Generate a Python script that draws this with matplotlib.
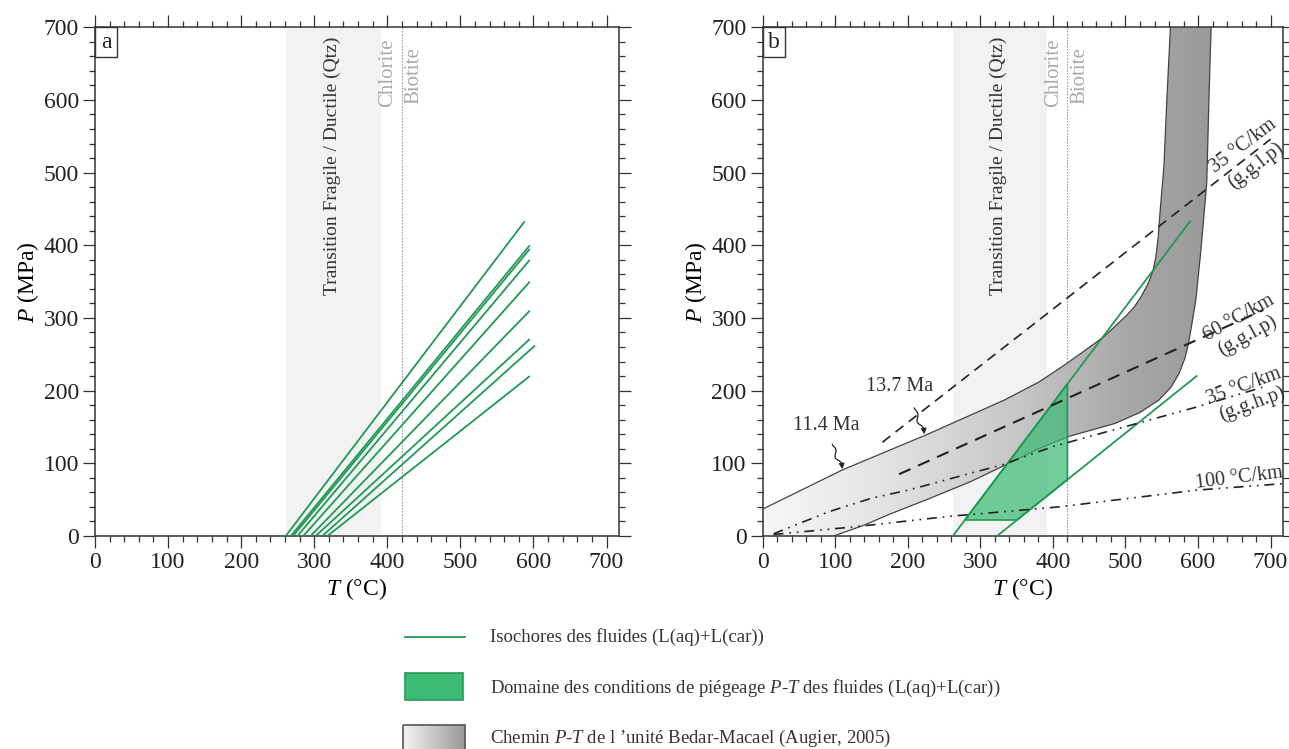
import matplotlib
matplotlib.use("Agg")
import matplotlib.pyplot as plt
from matplotlib.patches import Polygon, Rectangle
from matplotlib.ticker import MultipleLocator
import numpy as np

plt.rcParams['font.family'] = ['Liberation Serif', 'DejaVu Serif']
plt.rcParams['mathtext.fontset'] = 'custom'
plt.rcParams['mathtext.rm'] = 'Liberation Serif'
plt.rcParams['mathtext.it'] = 'Liberation Serif:italic'

# Isochores (start T at P=0, end T, end P)
iso_t0 = [261, 268, 271, 277, 285, 295, 302, 311, 318]
iso_t1 = [588, 595, 595, 595, 595, 595, 595, 602, 595]
iso_p1 = [433, 400, 395, 380, 350, 310, 271, 262, 220]

# isochores kept in panel b (upper / lower)
b_iso_t0 = [262, 323]
b_iso_t1 = [589, 598]
b_iso_p1 = [433, 220]
trap_pmin = 22    # bottom of trapping domain
trap_tmax = 420   # right edge (biotite-in)

# Fragile / ductile transition band, chlorite/biotite limit
brittle_tmin, brittle_tmax = 262, 392
biotite_t = 420

# P-T path of Bedar-Macael unit (Augier, 2005)
path_up_t = [0, 110, 225, 333, 381, 420, 470, 500, 512, 522, 531, 538, 542, 545, 548, 553, 557, 562]
path_up_p = [37, 91, 139, 187, 212, 238, 274, 302, 315, 330, 347, 365, 385, 410, 450, 509, 601, 700]
path_lo_t = [98, 140, 175, 226, 287, 335, 380, 422, 486, 520, 546, 563, 574, 582, 587, 592, 597, 604, 612, 615, 618]
path_lo_p = [0, 15, 30, 50, 75, 98, 120, 137, 155, 170, 187, 205, 224, 245, 266, 295, 325, 394, 486, 601, 700]

# geotherms
g35lp_t = [165, 700]
g35lp_p = [129, 546]
g60_t = [188, 690]
g60_p = [85, 311]
g35hp_t = [15, 90, 150, 200, 330, 400, 600, 690]
g35hp_p = [3, 33, 52, 63, 98, 123, 178, 205]
g100_t = [15, 130, 257, 408, 597, 717]
g100_p = [2, 13, 27, 40, 63, 72]

geo_labels = ["35 °C/km", "(g.g.l.p)", "60 °C/km", "(g.g.l.p)",
              "35 °C/km", "(g.g.h.p)", "100 °C/km"]
geo_lab_t = [662, 680, 657, 668, 664, 674, 657]
geo_lab_p = [537, 510, 300, 276, 206, 181, 80]
geo_lab_rot = [37, 37, 29, 29, 20, 20, 7]

# age labels: text position, arrow start, arrow end
age_labels = ["13.7 Ma", "11.4 Ma"]
age_txt = [(188, 192), (88, 139)]
age_from = [(209, 176), (96, 126)]
age_to = [(223, 140), (110, 92)]

GREEN = '#1f9a55'
GREEN_FILL = '#3dbb75'
XMAX, YMAX = 717, 700


def style_axes(ax):
    ax.set_xlim(0, XMAX)
    ax.set_ylim(0, YMAX)
    ax.xaxis.set_major_locator(MultipleLocator(100))
    ax.xaxis.set_minor_locator(MultipleLocator(20))
    ax.yaxis.set_major_locator(MultipleLocator(100))
    ax.yaxis.set_minor_locator(MultipleLocator(20))
    ax.tick_params(which='both', direction='out', top=True, right=True,
                   width=0.9, colors='#333333', labelsize=17)
    ax.tick_params(which='major', length=8.5, pad=3)
    ax.tick_params(which='minor', length=4.5)
    ax.tick_params(labelcolor='#222222')
    for s in ax.spines.values():
        s.set_linewidth(1.1)
        s.set_color('#333333')
    ax.set_xlabel(r'$T$ (°C)', fontsize=17, labelpad=2)
    ax.set_ylabel(r'$P$ (MPa)', fontsize=17, labelpad=2)


def common_background(ax, letter):
    ax.axvspan(brittle_tmin, brittle_tmax, color='#f2f2f2', lw=0, zorder=0)
    ax.axvline(biotite_t, color='#888888', ls=(0, (1.2, 1.5)), lw=0.8, zorder=0.5)
    ax.text((brittle_tmin + brittle_tmax) / 2 - 2, 687, 'Transition Fragile / Ductile (Qtz)',
            rotation=90, ha='center', va='top', fontsize=14, color='#333333', zorder=6)
    ax.text(401, 685, 'Chlorite', rotation=90, ha='center', va='top',
            fontsize=15, color='#aaaaaa', zorder=6)
    ax.text(437, 673, 'Biotite', rotation=90, ha='center', va='top',
            fontsize=15, color='#aaaaaa', zorder=6)
    w, h = 22 / 524, 30 / 508.7
    ax.add_patch(Rectangle((0, 1 - h), w, h, transform=ax.transAxes, fc='white',
                           ec='#333333', lw=1.0, zorder=7, clip_on=False))
    ax.text(w / 2, 1 - h / 2, letter, transform=ax.transAxes, ha='center', va='center',
            fontsize=17, color='#222222', zorder=8)


def squiggle(ax, p0, p1):
    p0 = np.array(p0, float)
    p1 = np.array(p1, float)
    d = p1 - p0
    n = np.array([-d[1], d[0]]) / np.hypot(*d)
    t = np.linspace(0, 1, 60)
    amp = 3.2 * np.sin(np.pi * t) * np.sin(2 * np.pi * 1.5 * t)
    pts = p0[None, :] + t[:, None] * d[None, :] + amp[:, None] * n[None, :]
    ax.plot(pts[:-8, 0], pts[:-8, 1], color='#222222', lw=0.9, zorder=6)
    ax.annotate('', xy=p1, xytext=pts[-8],
                arrowprops=dict(arrowstyle='-|>', color='#222222', lw=0.9,
                                mutation_scale=8, shrinkA=0, shrinkB=0), zorder=6)


def gray_gradient(n=400):
    t = np.linspace(0, XMAX, n)
    v = np.interp(t, [0, 150, 350, 500, 620], [0.97, 0.90, 0.78, 0.66, 0.60])
    return np.repeat(np.stack([v, v, v], axis=-1)[None, :, :], 2, axis=0)


fig = plt.figure(figsize=(12.89, 7.49), dpi=100)
ax_a = fig.add_axes([0.0737, 0.2844, 0.4065, 0.6792])
ax_b = fig.add_axes([0.5917, 0.2844, 0.4036, 0.6792])

# ---- panel a
common_background(ax_a, 'a')
for t0, t1, p1 in zip(iso_t0, iso_t1, iso_p1):
    ax_a.plot([t0, t1], [0, p1], color=GREEN, lw=1.3, zorder=3, solid_capstyle='butt')
style_axes(ax_a)

# ---- panel b
common_background(ax_b, 'b')

# P-T path band with horizontal gradient
path_xy = list(zip(path_up_t, path_up_p)) + list(zip(path_lo_t[::-1], path_lo_p[::-1])) + [(0, 0)]
band = Polygon(path_xy, closed=True, fc='none', ec='none')
ax_b.add_patch(band)
im = ax_b.imshow(gray_gradient(), extent=[0, XMAX, 0, YMAX], aspect='auto',
                 origin='lower', zorder=1, interpolation='bilinear')
im.set_clip_path(band)
ax_b.plot(path_up_t, path_up_p, color='#444444', lw=0.9, zorder=1.5)
ax_b.plot(path_lo_t, path_lo_p, color='#444444', lw=0.9, zorder=1.5)

# trapping domain between the two isochores
s_up = b_iso_p1[0] / (b_iso_t1[0] - b_iso_t0[0])
s_lo = b_iso_p1[1] / (b_iso_t1[1] - b_iso_t0[1])
trap = [(b_iso_t0[0] + trap_pmin / s_up, trap_pmin),
        (b_iso_t0[1] + trap_pmin / s_lo, trap_pmin),
        (trap_tmax, (trap_tmax - b_iso_t0[1]) * s_lo),
        (trap_tmax, (trap_tmax - b_iso_t0[0]) * s_up)]
ax_b.add_patch(Polygon(trap, closed=True, fc=GREEN_FILL, alpha=0.72, ec='none', zorder=2))
ax_b.add_patch(Polygon(trap, closed=True, fc='none', ec=GREEN, lw=1.2, zorder=3))
for t0, t1, p1 in zip(b_iso_t0, b_iso_t1, b_iso_p1):
    ax_b.plot([t0, t1], [0, p1], color=GREEN, lw=1.3, zorder=3)

# geotherms
ax_b.plot(g35lp_t, g35lp_p, color='#222222', lw=1.2, ls=(0, (6, 4)), zorder=4)
ax_b.plot(g60_t, g60_p, color='#222222', lw=1.5, ls=(0, (6, 4)), zorder=4)
ax_b.plot(g35hp_t, g35hp_p, color='#222222', lw=1.2, ls=(0, (6, 3.5, 1, 3.5, 1, 3.5)), zorder=4)
ax_b.plot(g100_t, g100_p, color='#222222', lw=1.2, ls=(0, (6, 3.5, 1, 3.5, 1, 3.5)), zorder=4)
for lab, t, p, r in zip(geo_labels, geo_lab_t, geo_lab_p, geo_lab_rot):
    ax_b.text(t, p, lab, rotation=r, ha='center', va='center', fontsize=14.5,
              color='#333333', zorder=6, clip_on=False, rotation_mode='anchor')

for lab, xy, p0, p1 in zip(age_labels, age_txt, age_from, age_to):
    ax_b.text(xy[0], xy[1], lab, ha='center', va='bottom', fontsize=14.5, color='#333333', zorder=6)
    squiggle(ax_b, p0, p1)
style_axes(ax_b)

# ---- legend (pixel layout)
ax_l = fig.add_axes([0, 0, 1, 142 / 749])
ax_l.set_xlim(0, 1289)
ax_l.set_ylim(749, 607)
ax_l.axis('off')
ax_l.plot([405, 465], [637, 637], color=GREEN, lw=1.3)
ax_l.text(490, 637, 'Isochores des fluides (L(aq)+L(car))', va='center', fontsize=13.5, color='#333333')
ax_l.add_patch(Rectangle((405, 673), 58, 27, fc=GREEN_FILL, ec='#2a9a5a', lw=1.2))
ax_l.text(490, 688, r'Domaine des conditions de piégeage $P$-$T$ des fluides (L(aq)+L(car))',
          va='center', fontsize=13.5, color='#333333')
leg_rect = Rectangle((403, 725), 62, 32, fc='none', ec='#555555', lw=1.2)
ax_l.add_patch(leg_rect)
g = np.linspace(0.96, 0.60, 100)
leg_im = ax_l.imshow(np.repeat(np.stack([g, g, g], -1)[None], 2, axis=0),
                     extent=[403, 465, 757, 725], aspect='auto', interpolation='bilinear')
leg_im.set_clip_path(leg_rect)
ax_l.set_xlim(0, 1289)
ax_l.set_ylim(749, 607)
ax_l.text(490, 738, r"Chemin $P$-$T$ de l ’unité Bedar-Macael (Augier, 2005)",
          va='center', fontsize=13.5, color='#333333')

fig.savefig('out.png', dpi=100)
